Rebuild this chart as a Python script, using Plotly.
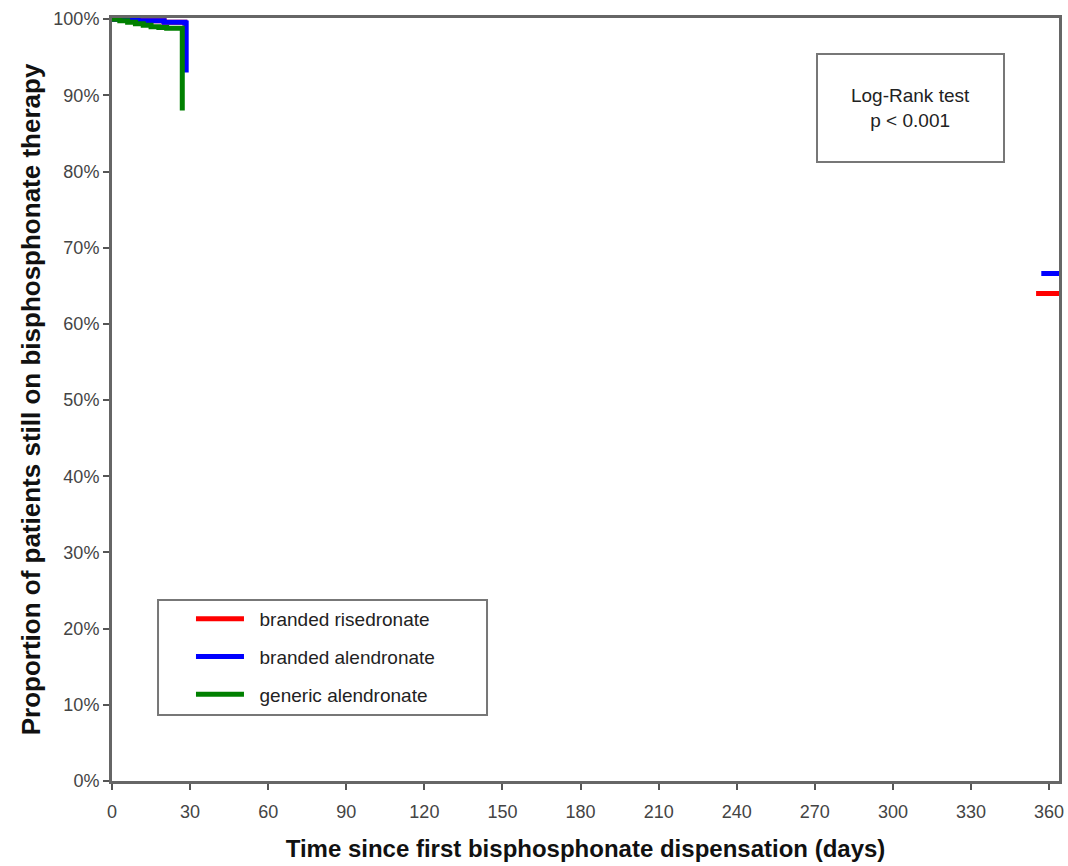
import plotly.graph_objects as go

# Data (visible portions of Kaplan-Meier curves; None = gap where not visible)
series_names = ["branded risedronate", "branded alendronate", "generic alendronate"]
series_colors = ["#ff0000", "#0000ff", "#008000"]

risedronate_days = [0, 10, 20, 28, 28.5, None, 355, 364]
risedronate_pct = [100, 99.8, 99.6, 99.5, 99.5, None, 64.0, 63.8]

branded_alen_days = [0, 10, 20, 28, 28.5, 28.5, None, 357, 364]
branded_alen_pct = [100, 99.8, 99.6, 99.5, 99.5, 93.0, None, 66.6, 66.4]

generic_alen_days = [0, 3, 6, 9, 12, 15, 18, 21, 27, 27]
generic_alen_pct = [100, 99.8, 99.6, 99.4, 99.2, 99.0, 98.9, 98.8, 98.7, 88.0]

x_ticks = [0, 30, 60, 90, 120, 150, 180, 210, 240, 270, 300, 330, 360]
y_ticks = [0, 10, 20, 30, 40, 50, 60, 70, 80, 90, 100]
y_tick_labels = [f"{v}%" for v in y_ticks]

FONT = "Liberation Sans, Arial, sans-serif"

fig = go.Figure()
all_x = [risedronate_days, branded_alen_days, generic_alen_days]
all_y = [risedronate_pct, branded_alen_pct, generic_alen_pct]
for name, color, xs, ys in zip(series_names, series_colors, all_x, all_y):
    fig.add_trace(go.Scatter(
        x=xs, y=ys, mode="lines", name="\u00a0\u00a0" + name, legendgroup=name,
        line=dict(color=color, width=5, shape="hv"),
        connectgaps=False, hoverinfo="skip",
    ))

axis_font = dict(family=FONT, size=18, color="#444444")

fig.update_layout(
    width=1068, height=866,
    margin=dict(l=112, r=9, t=18, b=85, autoexpand=False),
    paper_bgcolor="white", plot_bgcolor="white",
    showlegend=True,
    legend=dict(
        x=0.0834, y=0.2372, xanchor="left", yanchor="top",
        borderwidth=0, bgcolor="rgba(0,0,0,0)",
        font=dict(family=FONT, size=19, color="#222222"),
        tracegroupgap=10, itemwidth=48,
    ),
    xaxis=dict(
        range=[0, 363.8], tickvals=x_ticks, ticktext=[str(v) for v in x_ticks],
        showgrid=False, zeroline=False,
        showline=True, linecolor="#666666", linewidth=3, mirror=True,
        ticks="outside", ticklen=6, tickcolor="#555555", tickwidth=2,
        tickfont=axis_font, ticklabelstandoff=6,
        title=dict(text="<b>Time since first bisphosphonate dispensation (days)</b>",
                   font=dict(family=FONT, size=24, color="#111111"), standoff=20),
    ),
    yaxis=dict(
        range=[0, 100.15], tickvals=y_ticks, ticktext=y_tick_labels,
        showgrid=False, zeroline=False,
        showline=True, linecolor="#666666", linewidth=3, mirror=True,
        ticks="outside", ticklen=6, tickcolor="#555555", tickwidth=2,
        tickfont=axis_font,
        title=dict(text="<b>Proportion of patients still on bisphosphonate therapy</b>",
                   font=dict(family=FONT, size=26, color="#111111"), standoff=6),
    ),
    shapes=[dict(
        type="rect", xref="paper", yref="paper",
        x0=0.0486, x1=0.396, y0=0.0865, y1=0.2372,
        line=dict(color="#777777", width=2), fillcolor="rgba(0,0,0,0)", layer="above",
    )],
    annotations=[dict(
        xref="paper", yref="paper", x=0.843, y=0.8814,
        xanchor="center", yanchor="middle", showarrow=False,
        text="Log-Rank test<br>p < 0.001", align="center",
        font=dict(family=FONT, size=19, color="#222222"),
        bordercolor="#777777", borderwidth=2, borderpad=10,
        width=165, height=86, bgcolor="white",
    )],
)

fig.write_html("out.html", config={"displayModeBar": False},
               post_script="document.body.style.margin='0px';")
